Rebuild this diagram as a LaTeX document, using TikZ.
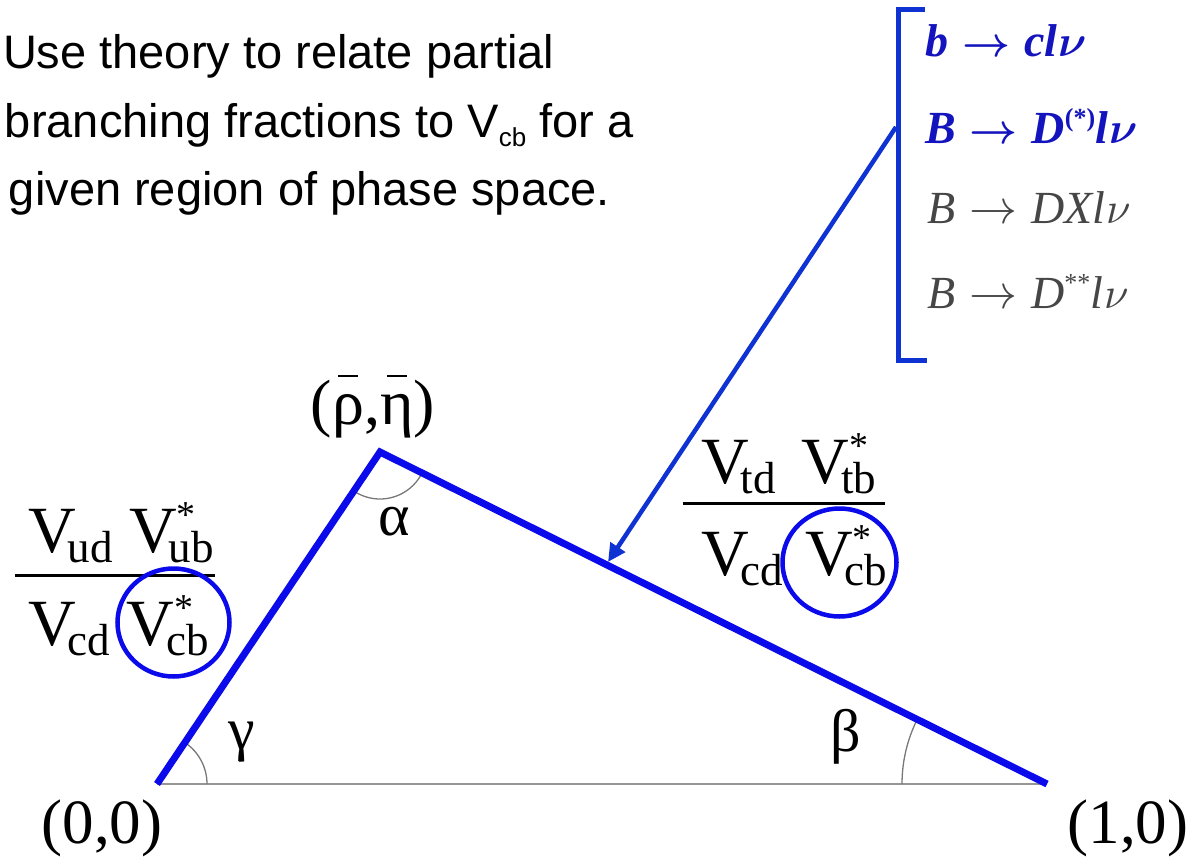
\documentclass[tikz,border=0pt]{standalone}
\usepackage{graphicx}
\usepackage{fontspec}
\setmainfont{Liberation Serif}
\newfontfamily\sansf{Liberation Sans}
\usetikzlibrary{arrows.meta}
\definecolor{triblue}{RGB}{10,10,235}
\definecolor{arrblue}{RGB}{15,50,210}
\definecolor{listblue}{RGB}{20,20,190}
\definecolor{listgray}{RGB}{70,70,70}
\definecolor{basegray}{RGB}{150,150,150}
\definecolor{arcgray}{RGB}{120,120,120}
\newcommand\fs[1]{\fontsize{#1}{#1}\selectfont}
\newcommand\ckm[2]{V\kern-8pt\makebox[0pt][l]{\raisebox{-10pt}{\fs{45}#1}}\makebox[0pt][l]{\kern8pt\raisebox{25pt}{\fs{38}#2}}\hphantom{\fs{45}#1}}
\newcommand\ovl[1]{\setbox0\hbox{#1}\rlap{\hbox to\wd0{\hss\raisebox{48pt}{\vrule width 20pt height 1.5pt depth 0pt}\hss}}\box0}
\newcommand\arr{\hspace{14pt}\resizebox{48pt}{!}{\fs{10}$\rightarrow$}\hspace{14pt}}
\newcommand\mnu{\kern1pt\scalebox{4.4}{\fs{10}$\nu$}}
\tikzset{
  txt/.style={inner sep=0pt, outer sep=0pt},
  sanstxt/.style={txt, anchor=base west, font=\sansf\fs{47}},
  fractxt/.style={txt, anchor=base west, font=\fs{66}},
  listtxt/.style={txt, anchor=base west, font=\fs{46}\itshape},
  listbold/.style={listtxt, text=listblue, font=\fs{46}\itshape\bfseries\boldmath},
  greek/.style={txt, font=\fs{60}},
  coordtxt/.style={txt, font=\fs{63}},
  tribluel/.style={draw=triblue, line width=7pt, line join=miter, line cap=butt},
  baseline/.style={draw=basegray, line width=2pt},
  anglearc/.style={draw=arcgray, line width=1.3pt},
  fracrule/.style={draw=black, line width=3pt},
  ckmcirc/.style={draw=triblue, line width=4.5pt},
  brk/.style={draw=arrblue, line width=5pt},
  pointer/.style={draw=arrblue, line width=4.5pt, -{Triangle[length=18pt,width=17pt]}},
}
\begin{document}
\begin{tikzpicture}[x=1pt,y=-1pt]
\useasboundingbox (0,0) rectangle (1194,859);
% top-left text
\node[sanstxt] (t1) at (3,69) {Use theory to relate partial};
\node[sanstxt] (t2) at (5,137) {branching fractions to V\raisebox{-9pt}{\fs{26}cb} for a};
\node[sanstxt] (t3) at (9,205) {given region of phase space.};
% triangle
\coordinate (O) at (157,784);
\coordinate (A) at (380,452);
\coordinate (R) at (1047,784);
\draw[baseline] (O) -- (R);
\draw[anglearc] ([shift={(0:50pt)}]O) arc[start angle=0, end angle=56.1, radius=50pt];
\draw[anglearc] ([shift={(180:145pt)}]R) arc[start angle=180, end angle=153.5, radius=145pt];
\draw[anglearc] ([shift={(-123.9:47pt)}]A) arc[start angle=-123.9, end angle=-26.5, radius=47pt];
\draw[tribluel] (O) -- (A) -- (R);
% vertex labels
\node[coordtxt] (l00) at (102,828) {(0,0)};
\node[coordtxt] (l10) at (1128,828) {(1,0)};
\node[txt, font=\fs{64}] (lrho) at (373,407) {(\ovl{ρ},\ovl{η})};
\node[greek] (alpha) at (394,522) {α};
\node[greek] (gamma) at (242,742) {γ};
\node[greek] (beta) at (846,737) {β};
% left fraction
\node[fractxt] (ln) at (28,552) {\ckm{ud}{} \ckm{ub}{*}};
\node[fractxt] (ld) at (28,645) {\ckm{cd}{} \ckm{cb}{*}};
\coordinate (lr1) at (15,575);
\coordinate (lr2) at (215,575);
\draw[fracrule] (lr1) -- (lr2);
\coordinate (lc) at (173.5,622.5);
\draw[ckmcirc] (lc) ellipse[x radius=56pt, y radius=54pt];
% right fraction
\node[fractxt] (rn) at (701,483) {\ckm{td}{}\hspace{26pt}\ckm{tb}{*}};
\node[fractxt] (rd) at (701,575) {\ckm{cd}{}\hspace{22pt}\ckm{cb}{*}};
\coordinate (rr1) at (683,503);
\coordinate (rr2) at (885,503);
\draw[fracrule] (rr1) -- (rr2);
\coordinate (rc) at (839.5,562.5);
\draw[ckmcirc] (rc) ellipse[x radius=57pt, y radius=54pt];
% bracket and list
\coordinate (b1) at (925,10);
\coordinate (b2) at (898,10);
\coordinate (b3) at (898,360);
\coordinate (b4) at (927,360);
\draw[brk] (b1) -- (b2) -- (b3) -- (b4);
\node[listbold] (i1) at (925,57) {b\arr cl\mnu};
\node[listbold] (i2) at (925,143) {B\arr D\raisebox{17pt}{\upshape\fs{26}(*)}l\mnu};
\node[listtxt, text=listgray] (i3) at (927,223) {B\arr DXl\mnu};
\node[listtxt, text=listgray] (i4) at (927,308) {B\arr D\raisebox{17pt}{\upshape\fs{26}**}l\mnu};
% pointer
\coordinate (p0) at (896,127);
\coordinate (p1) at (608,562);
\draw[pointer] (p0) -- (p1);
\end{tikzpicture}
\end{document}
